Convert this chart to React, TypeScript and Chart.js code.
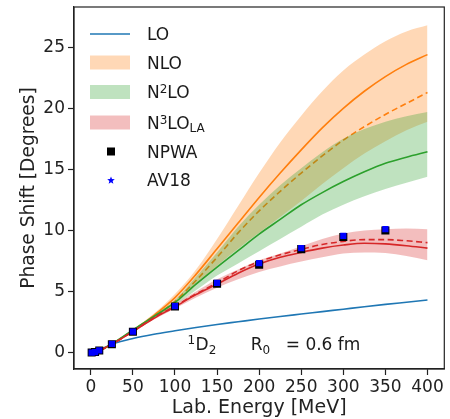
import React, { useEffect, useRef } from 'react';
import { Chart, registerables } from 'chart.js';

Chart.register(...registerables);

// ---- Data ----
const energies = [0, 10, 25, 50, 75, 100, 125, 150, 175, 200, 225, 250, 275, 300, 325, 350, 375, 400];

const LO = [0, 0.22, 0.68, 1.15, 1.5, 1.78, 2.05, 2.3, 2.52, 2.74, 2.95, 3.15, 3.35, 3.55, 3.75, 3.94, 4.12, 4.3];

const NLO_low = [0, 0.16, 0.68, 1.72, 2.8, 3.95, 5.5, 7.1, 8.5, 9.8, 11.1, 12.4, 13.8, 15.1, 16.3, 17.3, 18.2, 18.9];
const NLO_high = [0, 0.17, 0.72, 1.9, 3.2, 4.8, 6.8, 9.3, 12.0, 14.7, 17.2, 19.4, 21.4, 23.1, 24.4, 25.5, 26.3, 26.8];
const NLO_solid = [0, 0.16, 0.7, 1.8, 3.05, 4.5, 6.4, 8.5, 10.6, 12.7, 14.7, 16.6, 18.4, 20.0, 21.4, 22.6, 23.6, 24.4];
const NLO_dashed = [0, 0.16, 0.7, 1.78, 2.9, 4.2, 5.9, 7.8, 9.8, 11.6, 13.2, 14.7, 16.1, 17.4, 18.5, 19.5, 20.4, 21.3];

const N2LO_low = [0, 0.16, 0.68, 1.75, 2.8, 3.9, 5.1, 6.3, 7.3, 8.3, 9.3, 10.3, 11.3, 12.1, 12.8, 13.4, 13.9, 14.4];
const N2LO_high = [0, 0.17, 0.72, 1.9, 3.05, 4.3, 6.2, 8.2, 10.3, 12.1, 13.7, 15.1, 16.4, 17.5, 18.3, 18.9, 19.35, 19.7];
const N2LO_solid = [0, 0.16, 0.7, 1.85, 2.95, 4.1, 5.6, 7.0, 8.35, 9.7, 10.9, 12.1, 13.1, 14.0, 14.8, 15.5, 16.0, 16.45];

const N3LO_low = [0, 0.15, 0.66, 1.68, 2.7, 3.6, 4.5, 5.3, 6.0, 6.6, 7.05, 7.45, 7.8, 8.1, 8.2, 8.15, 7.9, 7.55];
const N3LO_high = [0, 0.17, 0.7, 1.76, 2.9, 3.95, 5.0, 6.0, 6.8, 7.55, 8.1, 8.7, 9.3, 9.75, 10.0, 10.1, 10.15, 10.1];
const N3LO_solid = [0, 0.16, 0.68, 1.72, 2.8, 3.75, 4.75, 5.6, 6.5, 7.25, 7.8, 8.2, 8.55, 8.8, 8.95, 8.9, 8.75, 8.55];
const N3LO_dashed = [0, 0.16, 0.69, 1.74, 2.85, 3.8, 4.8, 5.7, 6.7, 7.45, 8.0, 8.45, 8.85, 9.1, 9.25, 9.25, 9.15, 9.0];

const pwaEnergies = [1, 5, 10, 25, 50, 100, 150, 200, 250, 300, 350];
const NPWA = [0.0, 0.04, 0.16, 0.68, 1.7, 3.77, 5.63, 7.19, 8.47, 9.46, 10.0];
const AV18 = [0.0, 0.04, 0.17, 0.7, 1.72, 3.8, 5.7, 7.32, 8.55, 9.55, 10.1];

const xTicks = [0, 50, 100, 150, 200, 250, 300, 350, 400];
const yTicks = [0, 5, 10, 15, 20, 25];

const xTitle = 'Lab. Energy [MeV]';
const yTitle = 'Phase Shift [Degrees]';

const C_BLUE = '#1f77b4';
const C_ORANGE = '#ff7f0e';
const C_GREEN = '#2ca02c';
const C_RED = '#d62728';
const F_ORANGE = 'rgba(255,127,14,0.3)';
const F_GREEN = 'rgba(44,160,44,0.3)';
const F_RED = 'rgba(214,39,40,0.3)';

const FAMILY = '"DejaVu Sans", sans-serif';
const AXIS_COLOR = '#222';

function pts(xs: number[], ys: number[]) {
  return xs.map((x, i) => ({ x, y: ys[i] }));
}

type Seg = { t: string; size?: number; dy?: number };

function drawRich(ctx: CanvasRenderingContext2D, segs: Seg[], x: number, y: number, base = 17) {
  let cx = x;
  ctx.textAlign = 'left';
  ctx.textBaseline = 'alphabetic';
  for (const s of segs) {
    const size = s.size ?? base;
    ctx.font = `${size}px ${FAMILY}`;
    ctx.fillText(s.t, cx, y + (s.dy ?? 0));
    cx += ctx.measureText(s.t).width;
  }
}

function star(ctx: CanvasRenderingContext2D, x: number, y: number, ro: number, ri: number) {
  ctx.beginPath();
  for (let i = 0; i < 10; i++) {
    const r = i % 2 === 0 ? ro : ri;
    const a = -Math.PI / 2 + (i * Math.PI) / 5;
    const px = x + r * Math.cos(a);
    const py = y + r * Math.sin(a);
    if (i === 0) ctx.moveTo(px, py);
    else ctx.lineTo(px, py);
  }
  ctx.closePath();
  ctx.fill();
}

const overlay = {
  id: 'overlay',
  afterDraw(chart: any) {
    const { ctx, chartArea: ca, scales } = chart;
    ctx.save();
    // frame
    ctx.strokeStyle = AXIS_COLOR;
    ctx.lineWidth = 1.2;
    ctx.strokeRect(ca.left, ca.top, ca.right - ca.left, ca.bottom - ca.top);

    // legend
    const hx0 = 90, hx1 = 130, tx = 147;
    const rows = [34, 62.5, 92, 122.5, 151.5, 180];
    const off = 6.2;
    ctx.strokeStyle = C_BLUE;
    ctx.lineWidth = 1.6;
    ctx.beginPath();
    ctx.moveTo(hx0, rows[0]);
    ctx.lineTo(hx1, rows[0]);
    ctx.stroke();
    const patches = [F_ORANGE, F_GREEN, F_RED];
    patches.forEach((c, i) => {
      ctx.fillStyle = c;
      ctx.fillRect(hx0, rows[i + 1] - 7, hx1 - hx0, 14);
    });
    ctx.fillStyle = '#000';
    ctx.fillRect(111 - 4, rows[4] - 4, 8, 8);
    ctx.fillStyle = '#0000ff';
    star(ctx, 111, rows[5] + 0.5, 4, 1.7);

    ctx.fillStyle = '#1a1a1a';
    drawRich(ctx, [{ t: 'LO' }], tx, rows[0] + off);
    drawRich(ctx, [{ t: 'NLO' }], tx, rows[1] + off);
    drawRich(ctx, [{ t: 'N' }, { t: '2', size: 12, dy: -5 }, { t: 'LO' }], tx, rows[2] + off);
    drawRich(ctx, [{ t: 'N' }, { t: '3', size: 12, dy: -5 }, { t: 'LO' }, { t: 'LA', size: 12, dy: 3 }], tx, rows[3] + off);
    drawRich(ctx, [{ t: 'NPWA' }], tx, rows[4] + off);
    drawRich(ctx, [{ t: 'AV18' }], tx, rows[5] + off);

    // annotations
    const bx = scales.x.getPixelForValue(115);
    const by = scales.y.getPixelForValue(0.2);
    drawRich(ctx, [{ t: '1', size: 12, dy: -6.5 }], bx, by);
    drawRich(ctx, [{ t: 'D' }, { t: '2', size: 12, dy: 4 }], bx + 8, by);
    const rx = scales.x.getPixelForValue(190);
    drawRich(ctx, [{ t: 'R' }, { t: '0', size: 12, dy: 3.5 }], rx, by);
    drawRich(ctx, [{ t: '= 0.6 fm' }], rx + 35, by);
    ctx.restore();
  },
};

export default function App() {
  const ref = useRef<HTMLCanvasElement>(null);
  useEffect(() => {
    if (!ref.current) return;
    const line = (label: string, ys: number[], color: string, order: number, dash: number[] = []) => ({
      label,
      data: pts(energies, ys),
      borderColor: color,
      borderWidth: 1.6,
      borderDash: dash,
      pointRadius: 0,
      fill: false,
      cubicInterpolationMode: 'monotone',
      order,
    });
    const bandLow = (label: string, ys: number[], order: number) => ({
      label,
      data: pts(energies, ys),
      borderColor: 'rgba(0,0,0,0)',
      borderWidth: 0,
      pointRadius: 0,
      fill: false,
      cubicInterpolationMode: 'monotone',
      order,
    });
    const bandHigh = (label: string, ys: number[], color: string, order: number) => ({
      label,
      data: pts(energies, ys),
      borderColor: 'rgba(0,0,0,0)',
      borderWidth: 0,
      pointRadius: 0,
      backgroundColor: color,
      fill: '-1',
      cubicInterpolationMode: 'monotone',
      order,
    });
    const datasets: any[] = [
      line('LO', LO, C_BLUE, 10),
      bandLow('NLO low', NLO_low, 9),
      bandHigh('NLO', NLO_high, F_ORANGE, 9),
      line('NLO solid', NLO_solid, C_ORANGE, 8),
      line('NLO dashed', NLO_dashed, C_ORANGE, 8, [6, 3.5]),
      bandLow('N2LO low', N2LO_low, 7),
      bandHigh('N2LO', N2LO_high, F_GREEN, 7),
      line('N2LO solid', N2LO_solid, C_GREEN, 6),
      bandLow('N3LO low', N3LO_low, 5),
      bandHigh('N3LO', N3LO_high, F_RED, 5),
      line('N3LO solid', N3LO_solid, C_RED, 4),
      line('N3LO dashed', N3LO_dashed, C_RED, 4, [6, 3.5]),
      {
        label: 'NPWA',
        data: pts(pwaEnergies, NPWA),
        showLine: false,
        pointStyle: 'rect',
        pointRadius: 5.7,
        backgroundColor: '#000',
        borderColor: 'rgba(0,0,0,0)',
        borderWidth: 0,
        order: 1,
      },
      {
        label: 'AV18',
        data: pts(pwaEnergies, AV18),
        showLine: false,
        pointStyle: 'rect',
        pointRadius: 4.4,
        backgroundColor: '#0000ff',
        borderColor: 'rgba(0,0,0,0)',
        borderWidth: 0,
        order: 0,
      },
    ];
    const tickFont = { family: FAMILY, size: 17 };
    const chart = new Chart(ref.current, {
      type: 'line',
      data: { datasets },
      options: {
        animation: false,
        responsive: false,
        devicePixelRatio: 1,
        layout: { padding: { left: 0, right: 3, top: 7, bottom: 0 } },
        plugins: { legend: { display: false }, tooltip: { enabled: false } },
        scales: {
          x: {
            type: 'linear',
            min: -20,
            max: 420,
            afterBuildTicks: (s: any) => {
              s.ticks = xTicks.map((v) => ({ value: v }));
            },
            afterFit: (s: any) => {
              s.height = 50;
              s.paddingLeft = 0;
              s.paddingRight = 0;
            },
            grid: { display: true, drawOnChartArea: false, drawTicks: true, tickLength: 6, tickColor: AXIS_COLOR, tickWidth: 1.2 },
            border: { display: true, color: AXIS_COLOR, width: 1.2 },
            ticks: { font: tickFont, color: AXIS_COLOR, padding: 2, maxRotation: 0, autoSkip: false },
            title: { display: true, text: xTitle, font: { family: FAMILY, size: 19 }, color: AXIS_COLOR, padding: { top: 0, bottom: 0 } },
          },
          y: {
            type: 'linear',
            min: -1.35,
            max: 28.3,
            afterBuildTicks: (s: any) => {
              s.ticks = yTicks.map((v) => ({ value: v }));
            },
            afterFit: (s: any) => {
              s.width = 74;
              s.paddingTop = 0;
              s.paddingBottom = 0;
            },
            grid: { display: true, drawOnChartArea: false, drawTicks: true, tickLength: 6, tickColor: AXIS_COLOR, tickWidth: 1.2 },
            border: { display: true, color: AXIS_COLOR, width: 1.2 },
            ticks: { font: tickFont, color: AXIS_COLOR, padding: 3, autoSkip: false },
            title: { display: true, text: yTitle, font: { family: FAMILY, size: 18.6 }, color: AXIS_COLOR, padding: { top: 18, bottom: 0 } },
          },
        },
      } as any,
      plugins: [overlay],
    });
    return () => chart.destroy();
  }, []);
  return (
    <div style={{ position: 'absolute', left: 0, top: 0, width: 450, height: 419, background: '#fff' }}>
      <canvas ref={ref} width={450} height={419} />
    </div>
  );
}
